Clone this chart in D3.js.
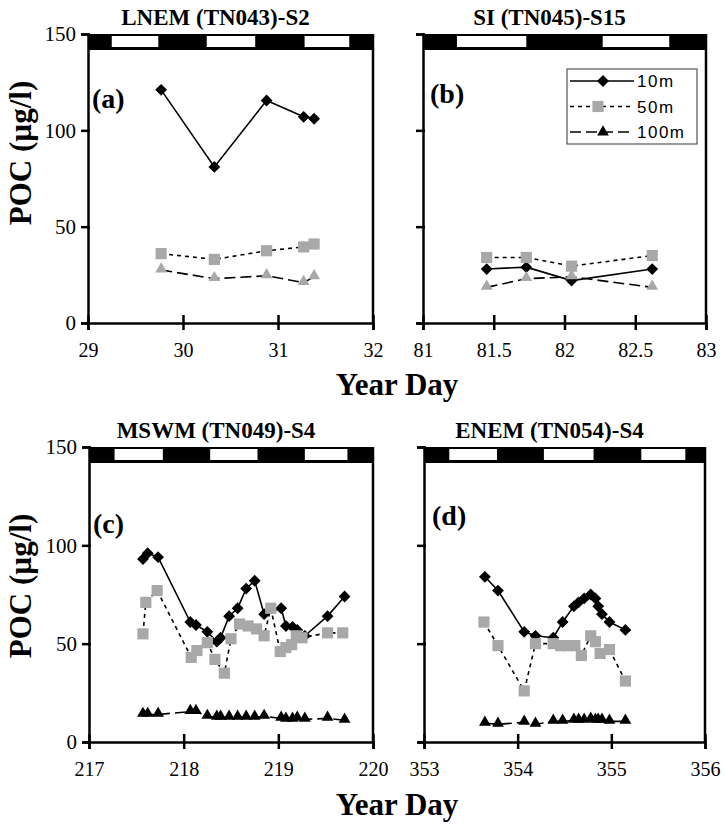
<!DOCTYPE html>
<html>
<head>
<meta charset="utf-8">
<script src="https://cdn.jsdelivr.net/npm/d3@7"></script>
<style>
body { margin: 0; background: #fff; }
</style>
</head>
<body>
<div id="chart"></div>
<script>
// ---- data ----
// (a) LNEM (TN043)-S2
var aTime = [29.77, 30.33, 30.88, 31.27, 31.38];
var aPoc10 = [121, 81, 115.5, 107, 106];
var aPoc50 = [36, 33, 37.5, 39.5, 41];
var aPoc100 = [27.5, 23, 24.5, 21, 24];
var aDay = [[29.25, 29.74], [30.25, 30.76], [31.28, 31.75]];
var aTicks = [29, 30, 31, 32];

// (b) SI (TN045)-S15
var bTime = [81.45, 81.73, 82.05, 82.62];
var bPoc10 = [28, 29, 22, 28];
var bPoc50 = [34, 34, 29.5, 35];
var bPoc100 = [18.5, 23, 24, 18.5];
var bDay = [[81.24, 81.73], [82.27, 82.74]];
var bTicks = [81, 81.5, 82, 82.5, 83];

// (c) MSWM (TN049)-S4
var cTime = [217.57, 217.62, 217.73, 218.07, 218.13, 218.25, 218.35, 218.39, 218.48, 218.57,
             218.66, 218.75, 218.85, 219.03, 219.08, 219.15, 219.2, 219.28, 219.52, 219.7];
var cPoc10 = [93, 96, 94, 61, 59.5, 56, 51, 53, 64, 68, 78, 82, 65, 68, 59, 58.5, 57, 54, 64, 74];
var cPoc100 = [14, 14, 14, 15.5, 15.5, 13, 12.5, 12.5, 12.5, 12.5, 12.5, 12.5, 13, 12, 11.5, 11.5, 12, 11.5, 12, 11];
var cTime50 = [217.57, 217.6, 217.72, 218.08, 218.14, 218.25, 218.33, 218.43, 218.5, 218.59, 218.68,
               218.77, 218.85, 218.92, 219.02, 219.08, 219.14, 219.19, 219.25, 219.52, 219.68];
var cPoc50 = [55, 71, 77, 43, 46.5, 50.5, 42, 35, 52.5, 60, 59, 57.5, 54, 68, 46, 48, 49.5, 54, 53, 55.5, 55.5];
var cDay = [[217.27, 217.78], [218.28, 218.78], [219.28, 219.73]];
var cTicks = [217, 218, 219, 220];

// (d) ENEM (TN054)-S4
var dTime = [353.65, 353.79, 354.07, 354.19, 354.38, 354.48, 354.6, 354.65, 354.71, 354.78,
             354.83, 354.86, 354.9, 354.98, 355.15];
var dPoc10 = [84, 77, 56, 54, 53, 61, 69, 71, 73, 75, 73, 69, 65, 61, 57];
var dPoc100 = [9.5, 9, 10, 9, 10.5, 10.5, 11, 11, 11, 11.5, 11, 11, 11, 10.5, 10.5];
var dTime50 = [353.64, 353.79, 354.07, 354.19, 354.38, 354.46, 354.53, 354.61, 354.68, 354.78,
               354.83, 354.88, 354.98, 355.15];
var dPoc50 = [61, 49, 26, 50, 50, 49, 49, 49, 44, 54, 51, 45, 47, 31];
var dDay = [[353.27, 353.78], [354.28, 354.81], [355.32, 355.79]];
var dTicks = [353, 354, 355, 356];

var yTicks = [0, 50, 100, 150];
var legendNames = ["10m", "50m", "100m"];

// ---- drawing ----
var serif = "'Liberation Serif', 'Times New Roman', serif";
var sans = "'Liberation Sans', Arial, sans-serif";
var gray = "#a8a8a8";

var svg = d3.select("#chart")
  .append("svg")
    .attr("width", 724)
    .attr("height", 826);

function zip(xs, ys) {
  return xs.map(function(x, i) { return {x: x, y: ys[i]}; });
}

var panels = [
  {left: 88, right: 373, top: 34, bottom: 323, dom: [29, 32], ticks: aTicks, day: aDay,
   title: "LNEM (TN043)-S2", tag: "(a)", tagX: 4, tagY: 74, ylab: 153, triColor: gray,
   s10: zip(aTime, aPoc10), s50: zip(aTime, aPoc50), s100: zip(aTime, aPoc100)},
  {left: 423, right: 706, top: 34, bottom: 323, dom: [81, 83], ticks: bTicks, day: bDay,
   title: "SI (TN045)-S15", tag: "(b)", tagX: 7, tagY: 69, ylab: 0, triColor: gray,
   s10: zip(bTime, bPoc10), s50: zip(bTime, bPoc50), s100: zip(bTime, bPoc100), legend: true},
  {left: 89, right: 373, top: 447, bottom: 742, dom: [217, 220], ticks: cTicks, day: cDay,
   title: "MSWM (TN049)-S4", tag: "(c)", tagX: 4, tagY: 86, ylab: 586, triColor: "#000",
   s10: zip(cTime, cPoc10), s50: zip(cTime50, cPoc50), s100: zip(cTime, cPoc100)},
  {left: 424, right: 705, top: 447, bottom: 742, dom: [353, 356], ticks: dTicks, day: dDay,
   title: "ENEM (TN054)-S4", tag: "(d)", tagX: 8, tagY: 78, ylab: 0, triColor: "#000",
   s10: zip(dTime, dPoc10), s50: zip(dTime50, dPoc50), s100: zip(dTime, dPoc100)}
];

var diamond = d3.symbol().type(d3.symbolSquare).size(70);
var square = d3.symbol().type(d3.symbolSquare).size(125);
var triangle = d3.symbol().type(d3.symbolTriangle).size(60);

panels.forEach(function(p) {
  var x = d3.scaleLinear().domain(p.dom).range([p.left, p.right]);
  var y = d3.scaleLinear().domain([0, 150]).range([p.bottom, p.top]);
  var g = svg.append("g");

  // title
  g.append("text")
    .attr("x", (p.left + p.right) / 2 - 15)
    .attr("y", p.top - 9)
    .attr("text-anchor", "middle")
    .attr("font-family", serif)
    .attr("font-weight", "bold")
    .attr("font-size", "23px")
    .text(p.title);

  // day/night bar
  g.append("rect")
    .attr("x", p.left)
    .attr("y", y(150))
    .attr("width", p.right - p.left)
    .attr("height", 16)
    .style("fill", "#000");
  g.selectAll(".day")
    .data(p.day)
    .enter()
    .append("rect")
      .attr("x", function(d) { return x(d[0]); })
      .attr("y", y(150) + 2)
      .attr("width", function(d) { return x(d[1]) - x(d[0]); })
      .attr("height", 11)
      .style("fill", "#fff");

  // right border
  g.append("line")
    .attr("x1", p.right).attr("x2", p.right)
    .attr("y1", p.top).attr("y2", p.bottom)
    .style("stroke", "#000")
    .style("stroke-width", 2.5);

  // x axis
  var gx = g.append("g")
    .attr("transform", "translate(0," + p.bottom + ")")
    .call(d3.axisBottom(x).tickValues(p.ticks).tickSizeOuter(0).tickSize(7)
      .tickFormat(function(d) { return d; }));
  gx.select(".domain").style("stroke-width", 2.5);
  gx.selectAll(".tick line").attr("y1", -8).attr("y2", 7).style("stroke-width", 2.5);
  gx.selectAll("text")
    .attr("y", 34).attr("dy", 0)
    .attr("font-family", serif)
    .style("font-size", "20px");

  // y axis
  var gy = g.append("g")
    .attr("transform", "translate(" + p.left + ",0)")
    .call(d3.axisLeft(y).tickValues(yTicks).tickSizeOuter(0).tickSize(7).tickPadding(5));
  gy.select(".domain").style("stroke-width", 2.5);
  gy.selectAll(".tick line").attr("x2", -7).attr("x1", 2).style("stroke-width", 2.5);
  gy.selectAll("text")
    .attr("font-family", serif)
    .style("font-size", "21px");
  if (!p.ylab) gy.selectAll("text").remove();

  // panel tag
  g.append("text")
    .attr("x", p.left + p.tagX)
    .attr("y", p.top + p.tagY)
    .attr("font-family", serif)
    .attr("font-weight", "bold")
    .attr("font-size", "28px")
    .text(p.tag);

  var line = d3.line().x(function(d) { return x(d.x); }).y(function(d) { return y(d.y); });

  // 10m
  g.append("path").datum(p.s10)
    .attr("d", line)
    .style("fill", "none").style("stroke", "#000").style("stroke-width", 1.6);
  g.selectAll(".m10").data(p.s10).enter().append("path")
    .attr("transform", function(d) { return "translate(" + x(d.x) + "," + y(d.y) + ") rotate(45)"; })
    .attr("d", diamond)
    .style("fill", "#000");

  // 50m
  g.append("path").datum(p.s50)
    .attr("d", line)
    .style("fill", "none").style("stroke", "#000").style("stroke-width", 1.6)
    .style("stroke-dasharray", "4,4");
  g.selectAll(".m50").data(p.s50).enter().append("path")
    .attr("transform", function(d) { return "translate(" + x(d.x) + "," + y(d.y) + ")"; })
    .attr("d", square)
    .style("fill", gray);

  // 100m
  g.append("path").datum(p.s100)
    .attr("d", line)
    .style("fill", "none").style("stroke", "#000").style("stroke-width", 1.6)
    .style("stroke-dasharray", "11,5");
  g.selectAll(".m100").data(p.s100).enter().append("path")
    .attr("transform", function(d) { return "translate(" + x(d.x) + "," + (y(d.y) - 1) + ")"; })
    .attr("d", triangle)
    .style("fill", p.triColor);

  // y label
  if (p.ylab) {
    g.append("text")
      .attr("transform", "translate(31," + p.ylab + ") rotate(-90)")
      .attr("text-anchor", "middle")
      .attr("font-family", serif)
      .attr("font-weight", "bold")
      .attr("font-size", "31px")
      .text("POC (\u00b5g/l)");
  }

  // legend
  if (p.legend) {
    var lg = g.append("g").attr("transform", "translate(567,69)");
    lg.append("rect")
      .attr("width", 130).attr("height", 75)
      .style("fill", "#fff").style("stroke", "#333").style("stroke-width", 1);
    var dash = [null, "4,4", "11,5"];
    var sym = [diamond, square, triangle];
    legendNames.forEach(function(name, i) {
      var ly = 12 + i * 25.5;
      lg.append("line")
        .attr("x1", 3).attr("x2", 67).attr("y1", ly).attr("y2", ly)
        .style("stroke", "#000").style("stroke-width", 1.5)
        .style("stroke-dasharray", dash[i]);
      lg.append("path")
        .attr("transform", "translate(" + (i == 1 ? 31 : 36) + "," + ly + ")" + (i == 0 ? " rotate(45)" : ""))
        .attr("d", sym[i])
        .style("fill", i == 1 ? gray : "#000");
      lg.append("text")
        .attr("x", 70).attr("y", ly + 6)
        .attr("font-family", sans)
        .attr("font-size", "17px")
        .attr("letter-spacing", "1.5px")
        .text(name);
    });
  }
});

// shared x labels
[395, 815].forEach(function(yy) {
  svg.append("text")
    .attr("x", 397)
    .attr("y", yy)
    .attr("text-anchor", "middle")
    .attr("font-family", serif)
    .attr("font-weight", "bold")
    .attr("font-size", "31px")
    .text("Year Day");
});
</script>
</body>
</html>
